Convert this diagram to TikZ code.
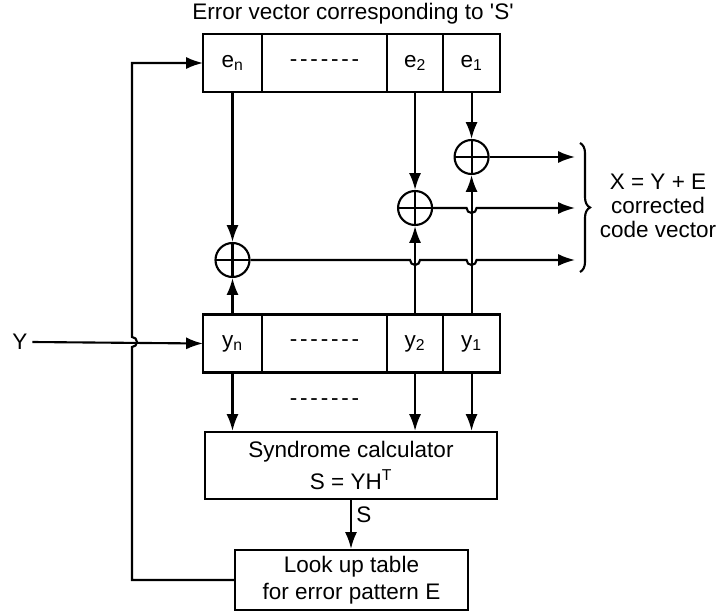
\documentclass[tikz,border=0pt]{standalone}
\usepackage{fontspec}
\setmainfont{Liberation Sans}
\usetikzlibrary{arrows.meta,positioning,calc,decorations.pathreplacing}
\newcommand{\hyphrow}{-\kern2pt-\kern2pt-\kern2pt-\kern2pt-\kern2pt-\kern2pt-}

\begin{document}
\begin{tikzpicture}[
      x=0.025cm, y=-0.025cm,
      node distance=0pt,
      font=\fontsize{16}{19}\selectfont,
      cell/.style={
        draw,
        line width=1.5pt,
        outer sep=0pt,
        inner sep=0pt,
        minimum height=1.45cm
      },
      blk/.style={draw,line width=1.5pt,align=center,inner sep=0pt},
      xor/.style={
        circle,
        draw,
        line width=1.5pt,
        minimum size=0.85cm,
        inner sep=0pt,
        path picture={\draw[line width=1.5pt]
          (path picture bounding box.north) -- (path picture bounding box.south)
          (path picture bounding box.west) -- (path picture bounding box.east);}
      },
      arrow/.style={-{Latex[length=4.2mm,width=3mm]},line width=1.5pt},
      brc/.style={decorate,decoration={brace,amplitude=2.5mm},line width=1.5pt}
    ]
      \useasboundingbox (0,0) rectangle (723,611);
      \node (title) at (353,14) {Error vector corresponding to \textquotesingle S\textquotesingle};
      \node[cell,minimum width=1.475cm] (en) at (232.5,63) {e\textsubscript{n}};
      \node[cell,minimum width=3.125cm,right=of en] (edots) {\hyphrow};
      \node[cell,minimum width=1.4cm,right=of edots] (e2) {e\textsubscript{2}};
      \node[cell,minimum width=1.425cm,right=of e2] (e1) {e\textsubscript{1}};
      \node[cell,minimum width=1.475cm] (yn) at (232.5,343.5) {y\textsubscript{n}};
      \node[cell,minimum width=3.125cm,right=of yn] (ydots) {\hyphrow};
      \node[cell,minimum width=1.4cm,right=of ydots] (y2) {y\textsubscript{2}};
      \node[cell,minimum width=1.425cm,right=of y2] (y1) {y\textsubscript{1}};
      \node (ydots2) at (324.5,402) {\hyphrow};
      \coordinate (rowa) at (0,157);
      \coordinate (rowb) at (0,208);
      \coordinate (rowc) at (0,260);
      \node[xor] (xe1) at (e1 |- rowa) {};
      \node[xor] (xe2) at (e2 |- rowb) {};
      \node[xor] (xen) at (en |- rowc) {};
      \node[blk,minimum width=7.3cm,minimum height=1.675cm] (syn) at (351,465.5) {Syndrome calculator\\[4pt]S = YH\textsuperscript{T}};
      \node[blk,minimum width=5.825cm,minimum height=1.5cm] (lut) at (351.5,580) {Look up table\\for error pattern E};
      \node (yin) at (20,342) {Y};
      \node[align=center] (xlbl) at (658,206) {X = Y + E\\[-2pt]corrected\\[-2pt]code vector};
      \coordinate (fb) at (132,0);
      \coordinate (oend) at (575,0);
      \coordinate (btop) at (580,143);
      \coordinate (bbot) at (580,272);
      \draw[arrow] (en.south) -- (xen.north);
      \draw[arrow] (e2.south) -- (xe2.north);
      \draw[arrow] (e1.south) -- (xe1.north);
      \draw[arrow] (yn.north) -- (xen.south);
      \draw[arrow] (y2.north) -- (xe2.south);
      \draw[arrow] (y1.north) -- (xe1.south);
      \draw[arrow] (xe1.east) -- (xe1.east -| oend);
      \draw[arrow] (xe2.east) -- ([xshift=-1.25mm]xe2.east -| e1.center)
        arc[start angle=180,end angle=360,radius=1.25mm] -- (xe2.east -| oend);
      \draw[arrow] (xen.east) -- ([xshift=-1.25mm]xen.east -| e2.center)
        arc[start angle=180,end angle=360,radius=1.25mm] -- ([xshift=-1.25mm]xen.east -| e1.center)
        arc[start angle=180,end angle=360,radius=1.25mm] -- (xen.east -| oend);
      \draw[brc] (btop) -- (bbot);
      \draw[arrow] (yn.south) -- (yn.south |- syn.north);
      \draw[arrow] (y2.south) -- (y2.south |- syn.north);
      \draw[arrow] (y1.south) -- (y1.south |- syn.north);
      \draw[arrow] (syn.south) -- node[right,pos=0.3,inner sep=3pt] (slbl) {S} (syn.south |- lut.north);
      \draw[arrow] (yin.east) -- (yn.west);
      \draw[arrow] (lut.west) -| ([yshift=-1.25mm]yin.east -| fb)
        arc[start angle=-90,end angle=90,radius=1.25mm] |- (en.west);
    \end{tikzpicture}
\end{document}
